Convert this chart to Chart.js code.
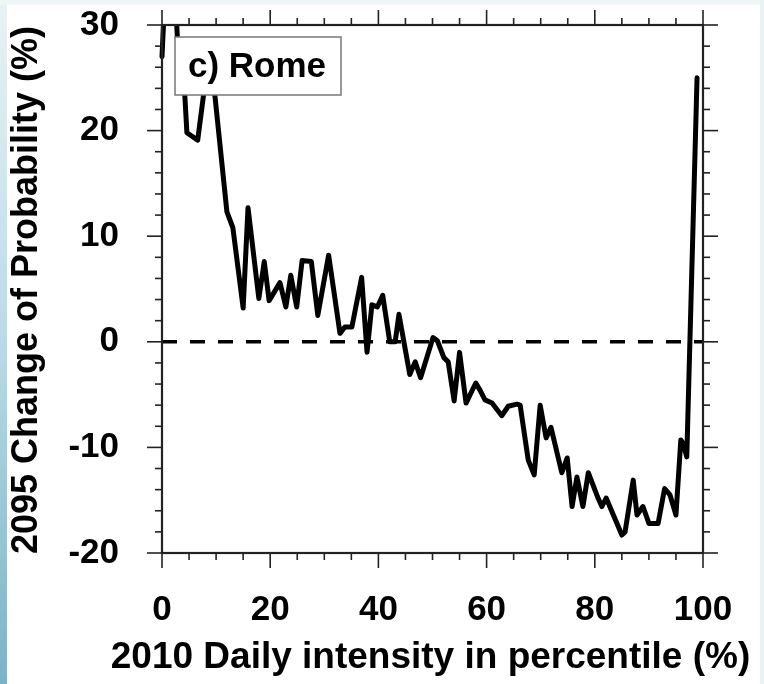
<!DOCTYPE html>
<html><head><meta charset="utf-8">
<script src="https://cdn.jsdelivr.net/npm/chart.js@4/dist/chart.umd.min.js"></script>
<style>html,body{margin:0;padding:0;background:#fff;}canvas{display:block}</style>
</head><body>
<canvas id="c" width="764" height="684"></canvas>
<script>
// ---- data ----
const percentile = [0, 1, 2, 3, 4.2, 4.6, 6.6, 8.6, 9.8, 12.0,
  13.1, 15.0, 15.9, 17.9, 18.9, 19.8, 21.8, 22.9, 23.8, 24.9,
  25.9, 27.6, 28.8, 30.8, 32.9, 33.8, 35.1, 36.9, 37.9, 38.8,
  39.8, 40.8, 42.1, 43.1, 43.8, 45.8, 46.8, 47.8, 50.1, 50.9,
  52.1, 52.9, 54.0, 55.0, 56.2, 58.0, 58.8, 59.7, 61.0, 62.8,
  64.0, 65.6, 66.2, 67.7, 68.8, 69.9, 71.0, 71.9, 73.9, 74.9,
  75.8, 76.7, 77.8, 78.8, 80.6, 81.3, 82.1, 85.0, 85.6, 87.1,
  87.8, 88.9, 90.0, 91.7, 92.9, 93.9, 95.0, 95.9, 96.3, 97.0,
  98.9];
const change = [27.0, 38, 38, 27, 23.5, 19.8, 19.1, 27, 23.2, 12.3,
  10.8, 3.2, 12.7, 4.1, 7.6, 3.9, 5.6, 3.3, 6.3, 3.3,
  7.7, 7.6, 2.5, 8.2, 0.8, 1.4, 1.4, 6.1, -1.0, 3.5,
  3.3, 4.4, 0.0, 0.0, 2.6, -3.1, -1.9, -3.4, 0.4, 0.1,
  -1.5, -1.9, -5.6, -1.0, -5.8, -3.9, -4.6, -5.5, -5.8, -7.0,
  -6.1, -5.9, -6.0, -11.2, -12.6, -6.0, -9.1, -8.1, -12.4, -11.0,
  -15.6, -12.8, -15.6, -12.4, -14.8, -15.6, -14.8, -18.3, -18.0, -13.1,
  -16.4, -15.6, -17.2, -17.2, -13.9, -14.5, -16.4, -9.3, -9.6, -10.9,
  25.0];
const zeroLineX = [0, 100];
const zeroLineY = [0, 0];
const xTickValues = [0, 20, 40, 60, 80, 100];
const yTickValues = [-20, -10, 0, 10, 20, 30];
const panelLabel = 'c) Rome';
const xTitle = '2010 Daily intensity in percentile (%)';
const yTitle = '2095 Change of Probability (%)';

const FONT = "'Liberation Sans', Arial, Helvetica, sans-serif";

const framePlugin = {
  id: 'frame',
  beforeDraw(chart) {
    const ctx = chart.ctx, W = chart.width, H = chart.height;
    ctx.save();
    ctx.fillStyle = '#ffffff';
    ctx.fillRect(0, 0, W, H);
    const g = ctx.createLinearGradient(0, 0, 0, H);
    g.addColorStop(0, '#e8f3f6');
    g.addColorStop(0.5, '#b9dbe5');
    g.addColorStop(1, '#78b4c7');
    ctx.fillStyle = g;
    ctx.fillRect(0, 0, 7, H);
    ctx.fillStyle = '#eef6f8';
    ctx.fillRect(0, 0, W, 5);
    ctx.fillStyle = '#e9f3f6';
    ctx.fillRect(W - 4, 0, 4, H);
    ctx.restore();
  },
  afterDatasetsDraw(chart) {
    const {ctx, chartArea: a, scales: {x, y}} = chart;
    ctx.save();
    const seg = (x1, y1, x2, y2) => { ctx.beginPath(); ctx.moveTo(x1, y1); ctx.lineTo(x2, y2); ctx.stroke(); };
    ctx.strokeStyle = '#222';
    ctx.lineWidth = 1.6;
    for (let v = 0; v <= 100; v += 5) {
      const px = x.getPixelForValue(v);
      const len = v % 20 === 0 ? 15 : 7;
      seg(px, a.bottom, px, a.bottom + len);
      seg(px, a.top, px, a.top - len);
    }
    for (let v = -20; v <= 30; v += 2) {
      const py = y.getPixelForValue(v);
      const len = v % 10 === 0 ? 15 : 7;
      seg(a.left, py, a.left - len, py);
      seg(a.right, py, a.right + len, py);
    }
    ctx.lineWidth = 2.2;
    ctx.strokeRect(a.left, a.top, a.right - a.left, a.bottom - a.top);
    // panel label box
    const bx = a.left + 13, by = a.top + 12, bw = 166, bh = 58;
    ctx.fillStyle = '#fff';
    ctx.fillRect(bx, by, bw, bh);
    ctx.strokeStyle = '#777';
    ctx.lineWidth = 1.5;
    ctx.strokeRect(bx, by, bw, bh);
    ctx.fillStyle = '#000';
    ctx.font = 'bold 35px ' + FONT;
    ctx.textAlign = 'left';
    ctx.textBaseline = 'alphabetic';
    ctx.fillText(panelLabel, bx + 13, by + 40);
    // axis titles
    ctx.font = 'bold 37px ' + FONT;
    ctx.textAlign = 'center';
    ctx.textBaseline = 'middle';
    ctx.fillText(xTitle, (a.left + a.right) / 2 - 2, a.bottom + 105);
    ctx.font = 'bold 36px ' + FONT;
    ctx.translate(27, (a.top + a.bottom) / 2 + 1);
    ctx.rotate(-Math.PI / 2);
    ctx.fillText(yTitle, 0, 0);
    ctx.restore();
  }
};

const zeroPad = s => { s.paddingTop = 0; s.paddingBottom = 0; s.paddingLeft = 0; s.paddingRight = 0; };

new Chart(document.getElementById('c'), {
  type: 'line',
  data: {
    datasets: [
      {
        data: percentile.map((p, i) => ({x: p, y: change[i]})),
        borderColor: '#000',
        borderWidth: 5,
        pointRadius: 0,
        tension: 0,
        borderJoinStyle: 'round',
        borderCapStyle: 'round',
        fill: false,
        clip: {left: 4, top: 0, right: 4, bottom: 4}
      },
      {
        data: zeroLineX.map((p, i) => ({x: p, y: zeroLineY[i]})),
        borderColor: '#000',
        borderWidth: 3.5,
        borderDash: [15, 13],
        pointRadius: 0,
        fill: false
      }
    ]
  },
  options: {
    responsive: false,
    devicePixelRatio: 1,
    animation: false,
    layout: {padding: {left: 0, top: 25, right: 61, bottom: 0}},
    plugins: {legend: {display: false}, tooltip: {enabled: false}},
    scales: {
      x: {
        type: 'linear', min: 0, max: 100,
        afterBuildTicks: s => { s.ticks = xTickValues.map(v => ({value: v})); },
        afterFit: s => { s.height = 131; zeroPad(s); },
        grid: {display: false, drawTicks: false},
        border: {display: false},
        ticks: {color: '#000', font: {family: FONT, size: 35, weight: 'bold'}, padding: 36, maxRotation: 0, autoSkip: false},
        title: {display: false}
      },
      y: {
        type: 'linear', min: -20, max: 30,
        afterBuildTicks: s => { s.ticks = yTickValues.map(v => ({value: v})); },
        afterFit: s => { s.width = 162; zeroPad(s); },
        grid: {display: false, drawTicks: false},
        border: {display: false},
        ticks: {color: '#000', font: {family: FONT, size: 35, weight: 'bold'}, padding: 43, autoSkip: false},
        title: {display: false}
      }
    }
  },
  plugins: [framePlugin]
});
</script>
</body></html>
